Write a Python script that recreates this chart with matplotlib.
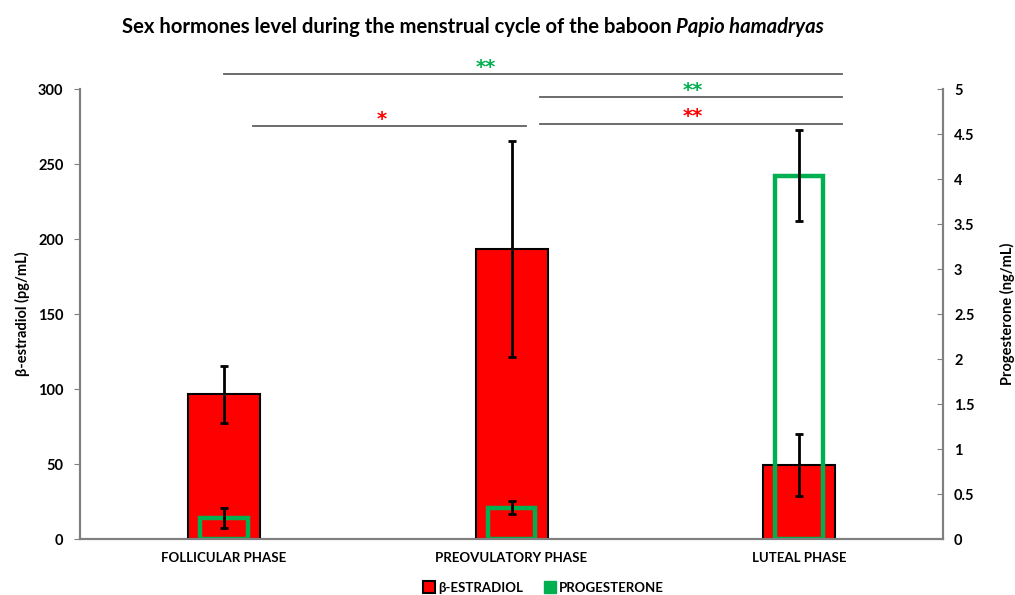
import numpy as np
import matplotlib.pyplot as plt
from matplotlib.lines import Line2D

plt.rcParams['font.family'] = ['Lato', 'DejaVu Sans']
plt.rcParams['font.weight'] = 'bold'
plt.rcParams['axes.labelweight'] = 'bold'

# mean +/- error per phase
phases = ['FOLLICULAR PHASE', 'PREOVULATORY PHASE', 'LUTEAL PHASE']
estradiol = [96.7, 193.3, 49.3]
estradiol_err = [19.0, 72.0, 20.5]
progesterone = [0.23, 0.35, 4.04]
progesterone_err = [0.11, 0.07, 0.51]

# significance brackets: (start, end, height on left axis, stars, star x, colour)
brackets = [
    (0.0, 2.15, 310, '**', 0.91, '#00b050'),
    (1.1, 2.15, 294.5, '**', 1.63, '#00b050'),
    (0.1, 1.05, 275.5, '*', 0.55, '#ff0000'),
    (1.1, 2.15, 277, '**', 1.63, '#ff0000'),
]

red = '#ff0000'
green = '#00b050'
grey = '#808080'

fig = plt.figure(figsize=(10.15, 5.95), dpi=100)
ax = fig.add_axes([0.079, 0.094, 0.850, 0.756])
ax2 = ax.twinx()

x = np.arange(len(phases))
ax.bar(x, estradiol, width=0.25, color=red, edgecolor='black', linewidth=1.5, zorder=2)
ax.errorbar(x, estradiol, yerr=estradiol_err, fmt='none', ecolor='black',
            elinewidth=2, capsize=3, capthick=2, zorder=3)

ax2.bar(x, progesterone, width=0.165, facecolor='none', edgecolor=green, linewidth=3.2, zorder=2)
ax2.errorbar(x, progesterone, yerr=progesterone_err, fmt='none', ecolor='black',
             elinewidth=2, capsize=3, capthick=2, zorder=3)

ax.set_xlim(-0.5, 2.5)
ax.set_ylim(0, 300)
ax2.set_ylim(0, 5)
ax.set_yticks(np.arange(0, 301, 50))
ax2.set_yticks(np.arange(0, 5.01, 0.5))
ax2.set_yticklabels(['0', '0.5', '1', '1.5', '2', '2.5', '3', '3.5', '4', '4.5', '5'])
ax.set_xticks(x)
ax.set_xticklabels(phases, fontsize=9.5)
ax.tick_params(axis='x', length=0, pad=9)
ax.tick_params(axis='y', labelsize=10.5, length=4, color=grey, pad=8, direction='out')
ax2.tick_params(axis='y', labelsize=10.5, length=4, color=grey, pad=8, direction='in')

for a in (ax, ax2):
    a.spines['top'].set_visible(False)
    for s in ('left', 'right', 'bottom'):
        a.spines[s].set_color(grey)
        a.spines[s].set_linewidth(1.5)

ax.set_ylabel('β-estradiol (pg/mL)', fontsize=10.5, labelpad=6)
ax2.set_ylabel('Progesterone (ng/mL)', fontsize=10.5, labelpad=18)

for x0, x1, yy, stars, xs, col in brackets:
    ax.plot([x0, x1], [yy, yy], color='#606060', lw=1.3, clip_on=False, zorder=1)
    ax.text(xs, yy + 4.5, stars, color=col, fontsize=14, fontweight='bold',
            ha='center', va='center', clip_on=False, family='DejaVu Sans')

# title with italic species name
t1 = fig.text(0.12, 0.945, 'Sex hormones level during the menstrual cycle of the baboon ',
              fontsize=14.6, fontweight='bold', ha='left', va='baseline')
ax.annotate('Papio hamadryas', xy=(1, 0), xycoords=t1, ha='left', va='bottom',
            fontsize=14.6, fontweight='bold', style='italic')

handles = [
    Line2D([], [], marker='s', ls='none', markersize=8, markerfacecolor=red,
           markeredgecolor='black', markeredgewidth=1.5),
    Line2D([], [], marker='s', ls='none', markersize=8, markerfacecolor=green,
           markeredgecolor=green),
]
fig.legend(handles, ['β-ESTRADIOL', 'PROGESTERONE'], loc='center', bbox_to_anchor=(0.535, 0.012),
           ncol=2, frameon=False, fontsize=9.5, handletextpad=0.2, columnspacing=1.5,
           handlelength=1)

fig.savefig('out.png', dpi=100)
